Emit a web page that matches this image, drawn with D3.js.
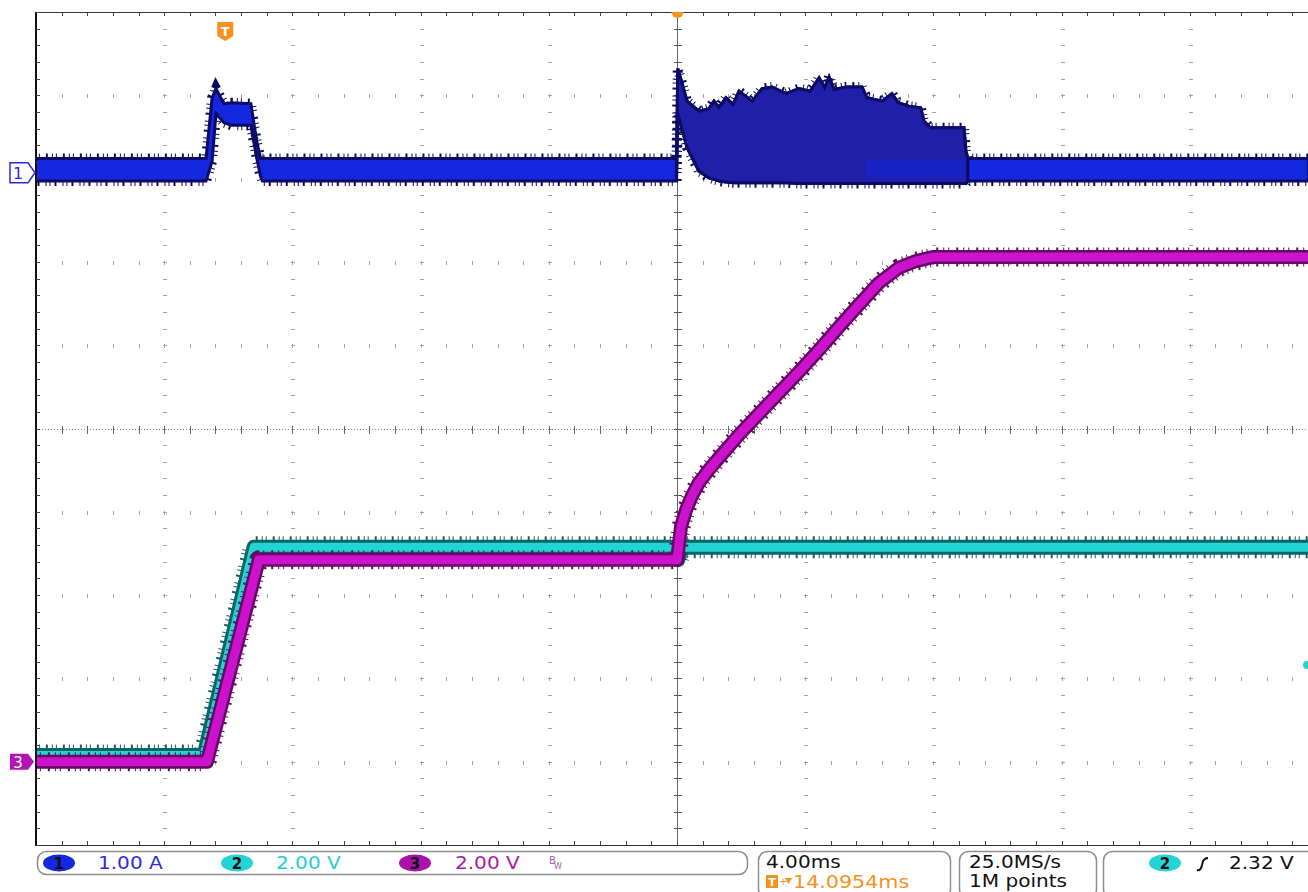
<!DOCTYPE html>
<html><head><meta charset="utf-8">
<script src="https://cdn.jsdelivr.net/npm/d3@7"></script>
<style>
html,body{margin:0;padding:0;background:#fff;overflow:hidden;}
svg{display:block;}
</style></head><body>
<svg id="c" width="1308" height="892"></svg>
<script>
// ---------- scope settings ----------
const timePerDiv = 4.0;          // ms/div
const trigDelay = 14.0954;       // ms, screen centre relative to trigger
const ch1Scale = 1.0, ch2Scale = 2.0, ch3Scale = 2.0; // A/div, V/div, V/div
const ch1Pos = 3.07, ch2Pos = -4.0, ch3Pos = -4.0;    // divisions
const trigLevel = 2.32;          // V on ch2

// ---------- channel 1 (current, A): noise-band envelope ----------
const ch1Time  = [-5.94, -0.60, -0.41, -0.29, -0.04, 0.20, 0.80, 0.98, 1.10, 1.16, 14.08, 14.12, 14.41, 14.78, 15.09, 15.25, 15.41, 15.62, 15.85, 16.03, 16.44, 16.75, 17.06, 17.50, 17.90, 18.25, 18.53, 18.70, 18.84, 19.00, 19.37, 19.87, 20.02, 20.50, 20.80, 21.00, 21.33, 21.70, 21.80, 22.00, 23.05, 23.11, 23.17, 33.80];
const ch1Upper = [0.17, 0.17, 0.90, 1.01, 0.83, 0.84, 0.83, 0.38, 0.17, 0.17, 0.17, 1.25, 0.86, 0.74, 0.77, 0.86, 0.78, 0.90, 0.82, 0.98, 0.86, 1.01, 1.03, 0.95, 1.01, 0.98, 1.14, 1.02, 1.15, 1.00, 1.03, 1.03, 0.90, 0.86, 0.95, 0.84, 0.80, 0.78, 0.62, 0.54, 0.54, 0.26, 0.17, 0.17];
const ch1Lower = [-0.10, -0.10, 0.14, 0.71, 0.60, 0.57, 0.57, 0.18, -0.04, -0.10, -0.10, 0.71, 0.30, 0.02, -0.06, -0.08, -0.10, -0.11, -0.12, -0.12, -0.12, -0.12, -0.12, -0.12, -0.13, -0.13, -0.13, -0.13, -0.13, -0.13, -0.13, -0.13, -0.13, -0.13, -0.13, -0.13, -0.13, -0.13, -0.13, -0.13, -0.13, -0.13, -0.10, -0.10];
const ch1Burst = [14.08, 23.17];     // switching burst window (ms)
const ch1QuietStrip = [20.0, 23.05]; // visible baseline inside the burst (ms)

// ---------- channel 2 (V) ----------
const ch2Time = [-5.94, -0.66, 0.90, 14.08, 14.12, 14.22, 33.80];
const ch2Volt = [0.15, 0.15, 5.15, 5.15, 4.85, 5.15, 5.15];

// ---------- channel 3 (V) ----------
const ch3Time = [-5.94, -0.57, 1.05, 14.10, 14.22, 14.38, 14.56, 14.78, 15.09, 15.41, 16.03, 16.65, 17.28, 17.90, 18.53, 19.15, 19.77, 20.40, 21.02, 21.55, 22.11, 33.80];
const ch3Volt = [0.0, 0.0, 4.85, 4.85, 5.64, 6.05, 6.38, 6.70, 7.01, 7.30, 7.85, 8.35, 8.86, 9.36, 9.89, 10.44, 10.97, 11.50, 11.86, 12.02, 12.12, 12.12];

// ---------- status bar texts ----------
const chNames = ['1', '2', '3'];
const chScaleText = ['1.00 A', '2.00 V', '2.00 V'];
const horizText = '4.00ms';
const delayText = '14.0954ms';
const rateText = '25.0MS/s';
const recordText = '1M points';
const trigText = '2.32 V';

// ---------- colours ----------
const C1 = '#1428e0', C1dark = '#0b0b66', C1burst = '#1f1fa8';
const C2 = '#22d4d4', C2dark = '#0c6464';
const C3 = '#cc12cc', C3dark = '#640a64';
const ORANGE = '#f5921e';

const svg = d3.select('#c');
const X0 = 36, X1 = 1318, Y0 = 12, Y1 = 845;
const nx = 10, ny = 10, minor = 5;
const xd = d3.scaleLinear().domain([0, nx]).range([X0, X1]);
const yd = d3.scaleLinear().domain([-ny / 2, ny / 2]).range([Y1, Y0]);
const x = d3.scaleLinear().domain([trigDelay - timePerDiv * nx / 2, trigDelay + timePerDiv * nx / 2]).range([X0, X1]);
const y1 = v => yd(ch1Pos + v / ch1Scale);
const y2 = v => yd(ch2Pos + v / ch2Scale);
const y3 = v => yd(ch3Pos + v / ch3Scale);

svg.append('rect').attr('width', 1308).attr('height', 892).attr('fill', '#fff');

// ---------- graticule ----------
const grid = svg.append('g').attr('shape-rendering', 'crispEdges');
const minorXs = d3.range(0, nx * minor + 1).map(i => Math.round(xd(i / minor)) + 0.5);
const minorYs = d3.range(0, ny * minor + 1).map(i => Math.round(yd(-ny / 2 + i / minor)) + 0.5);
const majX = d3.range(1, nx).filter(i => i !== nx / 2).map(i => Math.round(xd(i)) + 0.5);
const majY = d3.range(-ny / 2 + 1, ny / 2).filter(j => j !== 0).map(j => Math.round(yd(j)) + 0.5);
majX.forEach(xx => {
  minorYs.forEach(yy => {
    grid.append('line').attr('x1', xx - 2).attr('x2', xx + 2).attr('y1', yy).attr('y2', yy).attr('stroke', '#a4a4a4');
  });
});
majY.forEach(yy => {
  minorXs.forEach(xx => {
    grid.append('line').attr('x1', xx).attr('x2', xx).attr('y1', yy - 2).attr('y2', yy + 2).attr('stroke', '#a4a4a4');
  });
});
// centre crosshair
const cy = Math.round(yd(0)) + 0.5, cx = Math.round(xd(nx / 2)) + 0.5;
grid.append('line').attr('x1', X0).attr('x2', X1).attr('y1', cy).attr('y2', cy)
  .attr('stroke', '#8a8a8a').attr('stroke-dasharray', '1,2');
minorXs.forEach(xx => grid.append('line').attr('x1', xx).attr('x2', xx).attr('y1', cy - 4).attr('y2', cy + 4).attr('stroke', '#666'));
grid.append('line').attr('x1', cx).attr('x2', cx).attr('y1', Y0).attr('y2', Y1).attr('stroke', '#666');
minorYs.forEach(yy => grid.append('line').attr('x1', cx - 4).attr('x2', cx + 4).attr('y1', yy).attr('y2', yy).attr('stroke', '#555'));
// borders
grid.append('line').attr('x1', X0).attr('x2', X1).attr('y1', Y0 + 0.5).attr('y2', Y0 + 0.5).attr('stroke', '#333');
grid.append('line').attr('x1', X0).attr('x2', X1).attr('y1', Y1 + 0.5).attr('y2', Y1 + 0.5).attr('stroke', '#333');
minorXs.forEach(xx => {
  grid.append('line').attr('x1', xx).attr('x2', xx).attr('y1', Y0).attr('y2', Y0 + 4).attr('stroke', '#444');
  grid.append('line').attr('x1', xx).attr('x2', xx).attr('y1', Y1 - 4).attr('y2', Y1).attr('stroke', '#444');
});
grid.append('line').attr('x1', X0).attr('x2', X0).attr('y1', Y0).attr('y2', Y1 + 1).attr('stroke', '#111').attr('stroke-width', 2);
minorYs.forEach(yy => grid.append('line').attr('x1', X0).attr('x2', X0 + 4).attr('y1', yy).attr('y2', yy).attr('stroke', '#444'));

// ---------- traces ----------
svg.append('clipPath').attr('id', 'plotclip').append('rect')
  .attr('x', X0 + 1).attr('y', Y0).attr('width', X1 - X0).attr('height', Y1 - Y0);
const tr = svg.append('g').attr('clip-path', 'url(#plotclip)');

// channel 2
const d2 = ch2Time.map((t, i) => ({ t, v: ch2Volt[i] }));
const line2 = d3.line().x(d => x(d.t)).y(d => y2(d.v));
tr.append('path').attr('d', line2(d2)).attr('fill', 'none').attr('stroke', C2dark)
  .attr('stroke-width', 22).attr('stroke-dasharray', '1 3 1 6 2 4').attr('stroke-linejoin', 'round');
tr.append('path').attr('d', line2(d2)).attr('fill', 'none').attr('stroke', C2dark)
  .attr('stroke-width', 15).attr('stroke-linejoin', 'round');
tr.append('path').attr('d', line2(d2)).attr('fill', 'none').attr('stroke', C2)
  .attr('stroke-width', 9).attr('stroke-linejoin', 'round');

// channel 3
const d3d = ch3Time.map((t, i) => ({ t, v: ch3Volt[i] }));
const line3 = d3.line().x(d => x(d.t)).y(d => y3(d.v));
tr.append('path').attr('d', line3(d3d)).attr('fill', 'none').attr('stroke', C3dark)
  .attr('stroke-width', 19).attr('stroke-dasharray', '1 4 1 7 2 5').attr('stroke-linejoin', 'round');
tr.append('path').attr('d', line3(d3d)).attr('fill', 'none').attr('stroke', C3dark)
  .attr('stroke-width', 14).attr('stroke-linejoin', 'round');
tr.append('path').attr('d', line3(d3d)).attr('fill', 'none').attr('stroke', C3)
  .attr('stroke-width', 9).attr('stroke-linejoin', 'round');

// channel 1
const d1 = ch1Time.map((t, i) => ({ t, hi: ch1Upper[i], lo: ch1Lower[i] }));
const area1 = d3.area().x(d => x(d.t)).y0(d => y1(d.lo)).y1(d => y1(d.hi));
tr.append('path').attr('d', area1(d1)).attr('fill', 'none').attr('stroke', C1dark)
  .attr('stroke-width', 10).attr('stroke-dasharray', '1 3 1 6 2 4');
tr.append('path').attr('d', area1(d1)).attr('fill', C1).attr('stroke', C1dark).attr('stroke-width', 3);
const burst = d1.filter(d => d.t >= ch1Burst[0] && d.t <= ch1Burst[1]);
tr.append('path').attr('d', area1(burst)).attr('fill', C1burst).attr('stroke', C1dark).attr('stroke-width', 3);
const quiet = d1.filter(d => d.t < ch1Burst[0]).slice(0, 2).map(d => ({ hi: d.hi - 0.02, lo: d.lo + 0.04 }));
const qStrip = ch1QuietStrip.map((t, i) => ({ t, hi: quiet[i].hi, lo: quiet[i].lo }));
tr.append('path').attr('d', area1(qStrip)).attr('fill', C1).attr('opacity', 0.5);

// ---------- markers ----------
// trigger position marker
const tx = x(0);
svg.append('path').attr('d', `M${tx - 8},22 H${tx + 8} V36 L${tx},41 L${tx - 8},36 Z`).attr('fill', ORANGE);
svg.append('text').attr('x', tx).attr('y', 36).attr('text-anchor', 'middle').attr('fill', '#fff')
  .attr('font-family', 'DejaVu Sans, sans-serif').attr('font-weight', 'bold').attr('font-size', 13).text('T');
// expansion point marker at top
svg.append('path').attr('d', `M${cx - 6},${Y0} A6,6 0 0 0 ${cx + 6},${Y0} Z`).attr('fill', ORANGE);
// channel 1 ground marker
const g1y = y1(0);
svg.append('path').attr('d', `M10,${g1y - 10} H28 L35,${g1y} L28,${g1y + 10} H10 Z`)
  .attr('fill', '#fff').attr('stroke', '#2a2ae6').attr('stroke-width', 1.5);
svg.append('text').attr('x', 18).attr('y', g1y + 6).attr('text-anchor', 'middle').attr('fill', '#2a2ae6')
  .attr('font-family', 'DejaVu Sans, sans-serif').attr('font-size', 16).text(chNames[0]);
// channel 3 ground marker
const g3y = y3(0);
svg.append('path').attr('d', `M10,${g3y - 8} H28 L34,${g3y} L28,${g3y + 8} H10 Z`).attr('fill', '#b414b4');
svg.append('text').attr('x', 18).attr('y', g3y + 6).attr('text-anchor', 'middle').attr('fill', '#fff')
  .attr('font-family', 'DejaVu Sans, sans-serif').attr('font-size', 15).text(chNames[2]);
// trigger level marker (ch2)
svg.append('circle').attr('cx', 1307).attr('cy', y2(trigLevel)).attr('r', 4).attr('fill', C2);

// ---------- status bar ----------
const sb = svg.append('g');
function stext(str, xx, yy, fill, size, weight) {
  return sb.append('text').attr('transform', `translate(${xx},${yy}) scale(1.18,1)`)
    .attr('font-family', 'DejaVu Sans, sans-serif').attr('font-size', size || 17)
    .attr('font-weight', weight || 'normal').attr('fill', fill || '#000').text(str);
}
function box(xa, ya, xb, yb) {
  sb.append('rect').attr('x', xa).attr('y', ya).attr('width', xb - xa).attr('height', yb - ya)
    .attr('rx', 9).attr('fill', '#fff').attr('stroke', '#8e8e8e').attr('stroke-width', 1.5);
}
box(37.5, 851.5, 747.5, 874.5);
box(758.5, 851.5, 950.5, 898);
box(959.5, 851.5, 1096.5, 898);
box(1103.5, 851.5, 1340, 898);

const chFill = [C1, C2, '#a812a8'];
const chText = ['#2a2ae6', '#22d0d8', '#a81aa8'];
const ellX = [59, 237, 415], txtX = [98, 276, 455];
chNames.forEach((n, i) => {
  sb.append('ellipse').attr('cx', ellX[i]).attr('cy', 863).attr('rx', 16).attr('ry', 8.5).attr('fill', chFill[i]);
  sb.append('text').attr('x', ellX[i]).attr('y', 869).attr('text-anchor', 'middle')
    .attr('font-family', 'DejaVu Sans, sans-serif').attr('font-weight', 'bold').attr('font-size', 15).attr('fill', '#111').text(n);
  stext(chScaleText[i], txtX[i], 869, chText[i]);
});
// bandwidth-limit symbol
sb.append('text').attr('x', 549).attr('y', 864).attr('font-family', 'DejaVu Sans, sans-serif').attr('font-size', 10).attr('fill', '#a060a8').text('B');
sb.append('text').attr('x', 554).attr('y', 869).attr('font-family', 'DejaVu Sans, sans-serif').attr('font-size', 8).attr('fill', '#a060a8').text('W');

// horizontal
stext(horizText, 766, 868, '#111');
sb.append('rect').attr('x', 766).attr('y', 875).attr('width', 12).attr('height', 13).attr('fill', ORANGE);
sb.append('text').attr('x', 772).attr('y', 886).attr('text-anchor', 'middle').attr('fill', '#fff')
  .attr('font-family', 'DejaVu Sans, sans-serif').attr('font-weight', 'bold').attr('font-size', 11).text('T');
sb.append('text').attr('x', 779).attr('y', 885).attr('fill', ORANGE)
  .attr('font-family', 'DejaVu Sans, sans-serif').attr('font-size', 10).text('+');
sb.append('path').attr('d', 'M785,878 H792 L788.5,884 Z').attr('fill', ORANGE);
stext(delayText, 793, 888, ORANGE, 17.5);
// acquisition
stext(rateText, 969, 868, '#111');
stext(recordText, 969, 887, '#111');
// trigger
sb.append('ellipse').attr('cx', 1165).attr('cy', 863).attr('rx', 16).attr('ry', 8.5).attr('fill', C2);
sb.append('text').attr('x', 1165).attr('y', 869).attr('text-anchor', 'middle')
  .attr('font-family', 'DejaVu Sans, sans-serif').attr('font-weight', 'bold').attr('font-size', 15).attr('fill', '#111').text(chNames[1]);
sb.append('path').attr('d', 'M1197,870 Q1201,871 1202,865 Q1203,858 1208,858').attr('fill', 'none').attr('stroke', '#111').attr('stroke-width', 2);
stext(trigText, 1229, 869, '#111');
</script>
</body></html>
